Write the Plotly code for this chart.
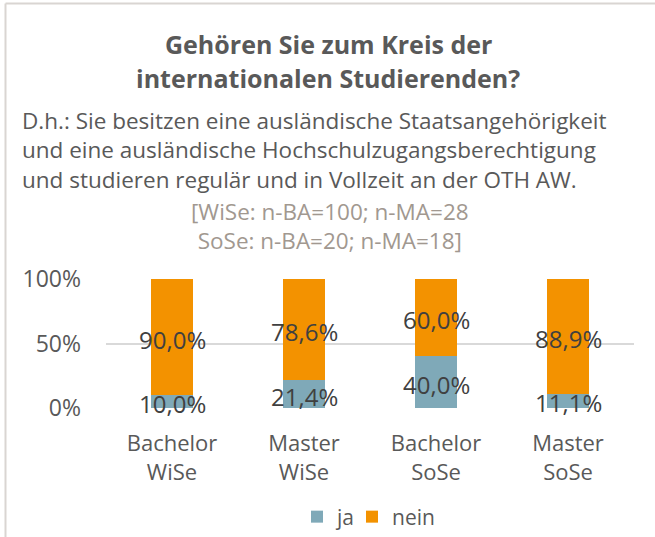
import plotly.graph_objects as go

# Survey shares (in percent) per group
categories = ["Bachelor<br>WiSe", "Master<br>WiSe", "Bachelor<br>SoSe", "Master<br>SoSe"]
ja_values = [10.0, 21.4, 40.0, 11.1]
nein_values = [90.0, 78.6, 60.0, 88.9]
y_ticks = [0, 50, 100]
y_tick_labels = ["0%", "50%", "100%"]

title_lines = ["Gehören Sie zum Kreis der", "internationalen Studierenden?"]
subtitle_lines = [
    "D.h.: Sie besitzen eine ausländische Staatsangehörigkeit",
    "und eine ausländische Hochschulzugangsberechtigung",
    "und studieren regulär und in Vollzeit an der OTH AW.",
]
sample_lines = ["[WiSe: n-BA=100; n-MA=28", "SoSe: n-BA=20; n-MA=18]"]

W, H = 655, 537
ML, MR, MT, MB = 106, 21, 278, 128
PW, PH = W - ML - MR, H - MT - MB
PAD = 100 * 1 / (PH - 2)  # one pixel of headroom so edge gridlines stay visible

FONT = "Open Sans"
C_BLUE = "#7FA9B8"
C_ORANGE = "#F39200"
C_TEXT = "#595959"
C_LABEL = "#404040"


def px_x(x):
    return (x - ML) / PW


def px_y(y):
    return (H - MB - y) / PH


def fmt(v):
    return f"{v:.1f}".replace(".", ",") + "%"


fig = go.Figure()
fig.add_trace(go.Bar(name="ja", x=categories, y=ja_values, marker_color=C_BLUE,
                     marker_line_width=0, hoverinfo="skip", legend="legend"))
fig.add_trace(go.Bar(name="nein", x=categories, y=nein_values, marker_color=C_ORANGE,
                     marker_line_width=0, hoverinfo="skip", legend="legend2"))

annotations = []

# value labels centred in each segment
ja_mid = [v / 2 for v in ja_values]
nein_mid = [j + n / 2 for j, n in zip(ja_values, nein_values)]
for mids, vals in [(ja_mid, ja_values), (nein_mid, nein_values)]:
    for c, m, v in zip(categories, mids, vals):
        annotations.append(dict(x=c, y=m, xref="x", yref="y", text=fmt(v), showarrow=False,
                                yshift=-2, font=dict(family=FONT, size=24, color=C_LABEL)))

for line, yp in zip(title_lines, [44, 78]):
    annotations.append(dict(text=f"<b>{line}</b>", x=px_x(328), y=px_y(yp), xref="paper", yref="paper",
                            xanchor="center", yanchor="middle", showarrow=False,
                            font=dict(family=FONT, size=25, color=C_TEXT)))

# explanatory text block, left aligned
annotations.append(dict(text="<br>".join(subtitle_lines), x=px_x(20), y=px_y(150), xref="paper", yref="paper",
                        xanchor="left", yanchor="middle", align="left", showarrow=False,
                        font=dict(family=FONT, size=22.5, color=C_TEXT)))

# sample sizes
annotations.append(dict(text="<br>".join(sample_lines), x=px_x(330), y=px_y(225.5), xref="paper", yref="paper",
                        xanchor="center", yanchor="middle", align="center", showarrow=False,
                        font=dict(family=FONT, size=22.5, color="#A19890")))

shapes = [
    dict(type="line", xref="paper", yref="paper", x0=px_x(5.5), x1=px_x(W + 5), y0=px_y(3.5), y1=px_y(3.5),
         line=dict(color="#D9D5D2", width=2)),
    dict(type="line", xref="paper", yref="paper", x0=px_x(5.5), x1=px_x(5.5), y0=px_y(3.5), y1=px_y(H + 5),
         line=dict(color="#D9D5D2", width=2)),
]

legend_style = dict(orientation="h", yanchor="middle", xanchor="left",
                    font=dict(family=FONT, size=21, color=C_TEXT), itemwidth=30,
                    bgcolor="rgba(0,0,0,0)")

fig.update_layout(
    width=W, height=H,
    margin=dict(l=ML, r=MR, t=MT, b=MB, autoexpand=False),
    barmode="stack", bargap=0.68,
    plot_bgcolor="white", paper_bgcolor="white",
    font=dict(family=FONT, color=C_TEXT),
    showlegend=True,
    legend=dict(x=px_x(297), y=px_y(517), **legend_style),
    legend2=dict(x=px_x(352), y=px_y(517), **legend_style),
    annotations=annotations,
    shapes=shapes,
    xaxis=dict(showgrid=False, showline=False, ticks="", automargin=False, ticklabelstandoff=19,
               tickfont=dict(family=FONT, size=22, color=C_TEXT), fixedrange=True),
    yaxis=dict(range=[-PAD, 100 + PAD], tickvals=y_ticks, ticktext=y_tick_labels, showgrid=True,
               gridcolor="#D9D9D9", gridwidth=1.5, zeroline=False, showline=False, automargin=False,
               tickfont=dict(family=FONT, size=23, color=C_TEXT), ticklabelstandoff=24,
               fixedrange=True),
)

fig.write_html("out.html", config={"displayModeBar": False})
